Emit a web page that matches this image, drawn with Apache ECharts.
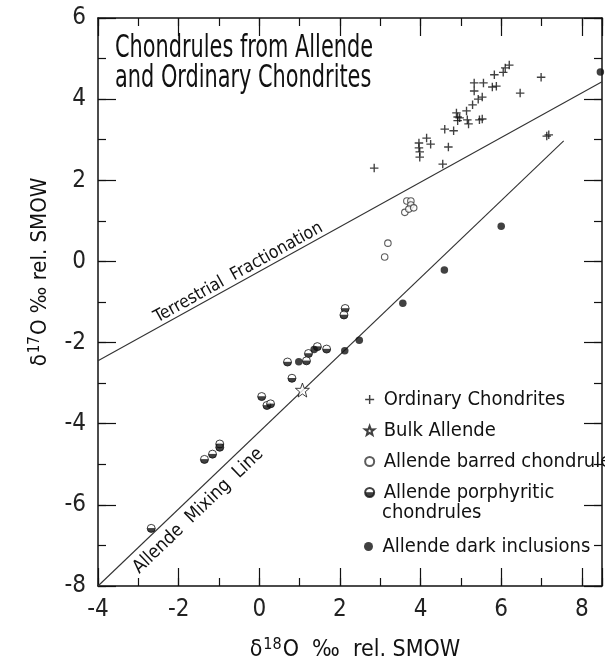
<!DOCTYPE html>
<html><head><meta charset="utf-8">
<script src="https://cdn.jsdelivr.net/npm/echarts@6.0.0/dist/echarts.min.js"></script>
<style>html,body{margin:0;padding:0;background:#fff}#c{width:605px;height:667px}</style>
</head><body><div id="c"></div>
<script>
// ---- data (delta18O, delta17O) ----
const ordinaryChondrites = [
  [2.85,2.30],[3.96,2.92],[3.96,2.80],[3.98,2.70],[3.98,2.57],[4.15,3.04],[4.25,2.89],
  [4.69,2.82],[4.55,2.40],[4.60,3.26],[4.82,3.22],[4.89,3.66],[4.92,3.56],[4.92,3.47],
  [4.97,3.54],[5.14,3.71],[5.16,3.49],[5.19,3.39],[5.29,3.86],[5.43,4.00],[5.53,4.05],
  [5.33,4.40],[5.33,4.20],[5.56,4.40],[5.46,3.49],[5.53,3.51],[5.83,4.60],[5.78,4.30],
  [5.88,4.32],[6.05,4.66],[6.10,4.77],[6.20,4.84],[6.47,4.15],[6.99,4.54],[7.13,3.09],[7.18,3.12]
];
const bulkAllende = [[1.07,-3.17]];
const barredChondrules = [
  [3.66,1.49],[3.76,1.49],[3.76,1.39],[3.61,1.21],[3.71,1.29],[3.83,1.32],[3.19,0.45],[3.11,0.11]
];
const porphyriticChondrules = [
  [2.13,-1.16],[2.10,-1.32],[1.44,-2.10],[1.22,-2.27],[1.17,-2.45],[0.70,-2.48],[1.67,-2.16],
  [0.81,-2.88],[0.06,-3.33],[0.19,-3.55],[0.28,-3.51],[-1.36,-4.88],[-1.16,-4.75],
  [-0.98,-4.58],[-0.98,-4.50],[-2.68,-6.58]
];
const darkInclusions = [
  [1.36,-2.17],[0.98,-2.47],[2.12,-2.20],[2.48,-1.94],[3.56,-1.03],[4.59,-0.21],[6.0,0.87],[8.46,4.67]
];
const terrestrialLine = [[-4,-2.45],[8.5,4.43]];
const mixingLine = [[-4,-8],[7.55,2.97]];
const xRange = [-4, 8.5];
const yRange = [-8, 6];
const legendNames = ['Ordinary Chondrites','Bulk Allende','Allende barred chondrules','Allende porphyritic','Allende dark inclusions'];

const FONT = "'DejaVu Sans Condensed', 'Liberation Sans Narrow', sans-serif";
const INK = '#111';
const PLUS = 'path://M4.2,0H5.8V4.2H10V5.8H5.8V10H4.2V5.8H0V4.2H4.2Z';
const STAR = 'path://M50,0L62.5,35L97.55,34.55L70,57L79.39,92L50,72L20.61,92L30,57L2.45,34.55L37.5,35Z';

function mkAxis(dim, pos, major, extra) {
  const range = dim === 'x' ? xRange : yRange;
  return Object.assign({
    type: 'value', min: range[0], max: range[1], position: pos,
    interval: major ? 2 : 1,
    splitLine: { show: false },
    axisLine: { show: major, onZero: false, lineStyle: { color: INK, width: 1.5 } },
    axisTick: { show: true, inside: true, length: major ? 18 : 8, lineStyle: { color: INK, width: 1.2 } },
    axisLabel: { show: false }
  }, extra || {});
}
const evenFmt = v => (Math.abs(v - Math.round(v)) < 1e-9 && Math.round(v) % 2 === 0) ? String(Math.round(v)) : '';
const labelStyle = { show: true, fontFamily: FONT, fontSize: 24, color: '#222', formatter: evenFmt };

const chart = echarts.init(document.getElementById('c'));
const legendText = { fontFamily: FONT, fontSize: 20, lineHeight: 31, color: INK };
const option = {
  animation: false,
  backgroundColor: '#fff',
  grid: { left: 98, top: 18, right: -0.5, bottom: 81, containLabel: false },
  xAxis: [
    mkAxis('x', 'bottom', true, { axisLabel: Object.assign({ margin: 12 }, labelStyle) }),
    mkAxis('x', 'bottom', false),
    mkAxis('x', 'top', true),
    mkAxis('x', 'top', false)
  ],
  yAxis: [
    mkAxis('y', 'left', true, { axisLabel: Object.assign({ margin: 12 }, labelStyle) }),
    mkAxis('y', 'left', false),
    mkAxis('y', 'right', true),
    mkAxis('y', 'right', false)
  ],
  legend: [
    { data: legendNames.slice(0, 4), orient: 'vertical', left: 359, top: 379, itemWidth: 18, itemHeight: 9,
      itemGap: 0, selectedMode: false, textStyle: legendText },
    { data: legendNames.slice(4), orient: 'vertical', left: 359, top: 526, itemWidth: 18, itemHeight: 9,
      itemGap: 0, selectedMode: false, textStyle: legendText }
  ],
  series: [
    { type: 'line', data: terrestrialLine, symbol: 'none', silent: true, lineStyle: { color: '#333', width: 1.1 }, z: 1 },
    { type: 'line', data: mixingLine, symbol: 'none', silent: true, lineStyle: { color: '#333', width: 1.1 }, z: 1 },
    { name: legendNames[0], type: 'scatter', data: ordinaryChondrites, symbol: PLUS, symbolSize: 8.5,
      itemStyle: { color: INK } },
    { name: legendNames[1], type: 'scatter', data: bulkAllende, symbol: STAR, symbolSize: 14,
      itemStyle: { color: '#fff', borderColor: INK, borderWidth: 1 } },
    { name: legendNames[2], type: 'scatter', data: barredChondrules, symbol: 'circle', symbolSize: 6.5,
      itemStyle: { color: '#fff', borderColor: '#333', borderWidth: 1.1 } },
    { name: legendNames[3], type: 'scatter', data: porphyriticChondrules, symbol: 'circle', symbolSize: 8,
      itemStyle: { color: { type: 'linear', x: 0, y: 0, x2: 0, y2: 1, colorStops: [
        { offset: 0, color: '#fff' }, { offset: 0.42, color: '#fff' }, { offset: 0.52, color: '#111' }, { offset: 1, color: '#111' } ] },
        borderColor: INK, borderWidth: 1 } },
    { name: legendNames[4], type: 'scatter', data: darkInclusions, symbol: 'circle', symbolSize: 7.5,
      itemStyle: { color: INK } }
  ]
};
chart.setOption(option);

const tp = p => chart.convertToPixel({ xAxisIndex: 0, yAxisIndex: 0 }, p);
function lineAt(line, x) {
  const [a, b] = line;
  return a[1] + (b[1] - a[1]) * (x - a[0]) / (b[0] - a[0]);
}
function lineLabel(line, xa, text, fs, offset) {
  const p = tp([xa, lineAt(line, xa)]);
  const p1 = tp(line[0]), p2 = tp(line[1]);
  const ang = Math.atan2(p1[1] - p2[1], p2[0] - p1[0]);
  return { type: 'text', x: p[0], y: p[1], rotation: ang, silent: true,
    style: { text: text, x: 0, y: offset, align: 'center', verticalAlign: 'middle',
      fontFamily: FONT, fontSize: fs, fill: INK } };
}
const nameRich = {
  a: { fontFamily: FONT, fontSize: 23, fill: INK },
  s: { fontFamily: FONT, fontSize: 16, fill: INK, padding: [0, 1, 10, 1] }
};
const yNameRich = {
  a: { fontFamily: FONT, fontSize: 22, fill: INK },
  s: { fontFamily: FONT, fontSize: 15, fill: INK, padding: [0, 1, 10, 1] }
};
chart.setOption({
  graphic: [
    { type: 'text', x: 115, y: 34, scaleY: 1.35, silent: true,
      style: { text: 'Chondrules from Allende\nand Ordinary Chondrites', fontFamily: FONT, fontSize: 23.2,
        lineHeight: 22.2, fill: INK, align: 'left', verticalAlign: 'top' } },
    { type: 'text', x: 382, y: 513, silent: true,
      style: { text: 'chondrules', fontFamily: FONT, fontSize: 20, fill: INK, align: 'left', verticalAlign: 'middle' } },
    lineLabel(terrestrialLine, -0.41, 'Terrestrial  Fractionation', 17.5, -9),
    lineLabel(mixingLine, -1.77, 'Allende  Mixing  Line', 18.5, 15),
    { type: 'text', x: 355, y: 650, silent: true,
      style: { text: '{a|δ}{s|18}{a|O  ‰  rel. SMOW}', align: 'center', verticalAlign: 'middle', fill: INK, rich: nameRich } },
    { type: 'text', x: 40, y: 272, rotation: Math.PI / 2, silent: true,
      style: { text: '{a|δ}{s|17}{a|O ‰ rel. SMOW}', align: 'center', verticalAlign: 'middle', fill: INK, rich: yNameRich } }
  ]
});
</script>
</body></html>
